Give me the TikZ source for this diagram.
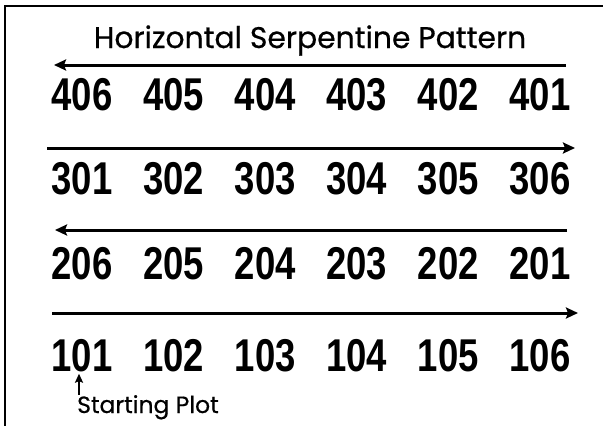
\documentclass[tikz,border=0pt]{standalone}
\usepackage{fontspec}
\setmainfont{Poppins}
\newfontfamily\labelfont[FakeBold=0.6]{Poppins}
\newfontfamily\numfont{Liberation Sans}
\usetikzlibrary{arrows.meta}
\tikzset{
  num/.style={font=\numfont\bfseries\fontsize{36.5}{36}\selectfont, inner sep=0pt, anchor=base, yscale=1.26},
  rowarrow/.style={line width=3pt, -{Stealth[length=12pt,width=11pt,inset=2pt]}},
  frame/.style={line width=2.8pt},
  label/.style={inner sep=0pt, anchor=base}
}
\begin{document}
\begin{tikzpicture}[x=1pt,y=-1pt]
\useasboundingbox (0,0) rectangle (603,426);
\draw[frame] (603,6) -- (5,6) -- (5,426);
\node[label, font=\labelfont\fontsize{29.8}{30}\selectfont] (title) at (310,48) {Horizontal Serpentine Pattern};
\foreach \k in {1,...,6}{
  \node[num] (n40\k) at ({82+91.6*(6-\k)},110) {40\k};
  \node[num] (n30\k) at ({82+91.6*(\k-1)},194) {30\k};
  \node[num] (n20\k) at ({82+91.6*(6-\k)},279) {20\k};
  \node[num] (n10\k) at ({82+91.6*(\k-1)},371) {10\k};
}
\coordinate (a4s) at (566,65); \coordinate (a4e) at (54,65);
\coordinate (a3s) at (47,148); \coordinate (a3e) at (575,148);
\coordinate (a2s) at (567,230); \coordinate (a2e) at (55,230);
\coordinate (a1s) at (52,313); \coordinate (a1e) at (578,313);
\draw[rowarrow] (a4s) -- (a4e);
\draw[rowarrow] (a3s) -- (a3e);
\draw[rowarrow] (a2s) -- (a2e);
\draw[rowarrow] (a1s) -- (a1e);
\node[label, anchor=base west, font=\labelfont\fontsize{23.5}{24}\selectfont] (start) at (77,413) {Starting Plot};
\coordinate (sx) at (79,0);
\draw[line width=2.4pt, -{Stealth[length=9pt,width=8pt,inset=1.5pt]}] ([yshift=0pt]start.north -| sx) -- ([yshift=-2pt]n101.south -| sx);
\end{tikzpicture}
\end{document}
